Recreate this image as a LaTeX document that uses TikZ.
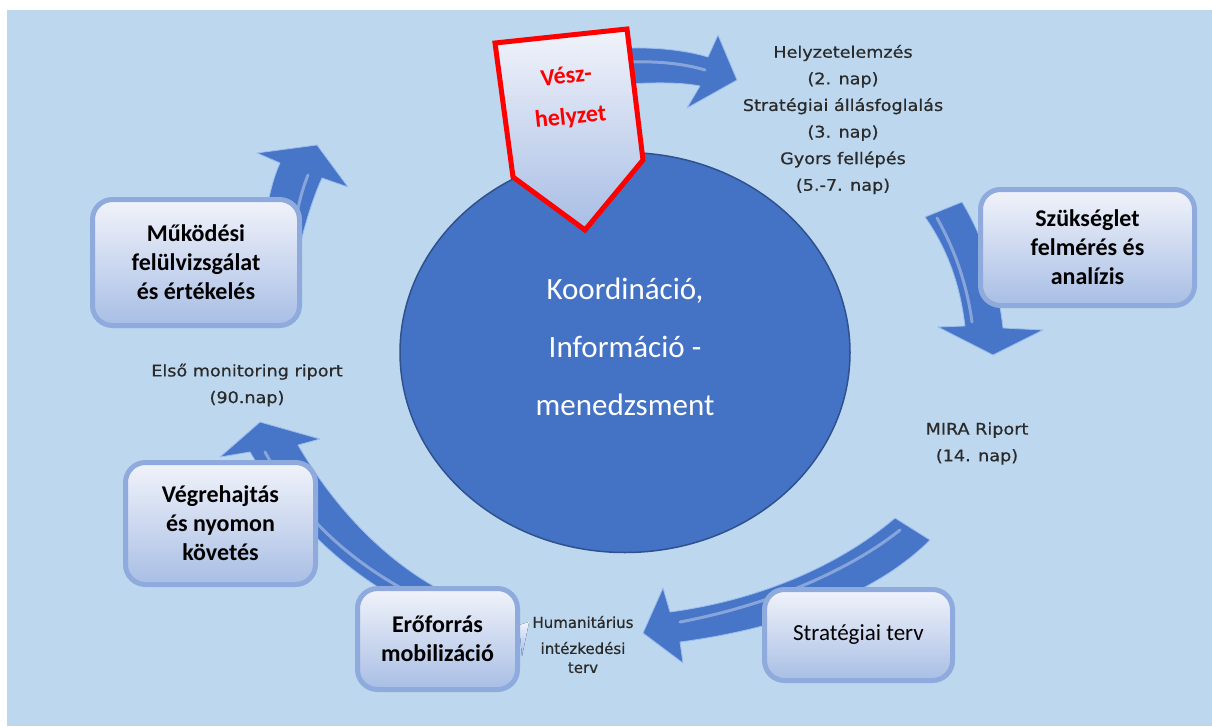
\documentclass[tikz,border=0pt]{standalone}
\usepackage{fontspec}
\usetikzlibrary{shapes.geometric}
\setmainfont{Carlito}
\newfontfamily\labfont[FakeStretch=1.1,FakeBold=0.6]{DejaVu Sans}
\newfontfamily\smlabfont[FakeBold=0.6]{DejaVu Sans}
\definecolor{bgblue}{HTML}{BDD7EE}
\definecolor{circfill}{HTML}{4472C4}
\definecolor{circline}{HTML}{2F528F}
\definecolor{arrfill}{HTML}{4775C8}
\definecolor{arredge}{HTML}{9CBDF0}
\definecolor{boxline}{HTML}{8FAADC}
\definecolor{boxtop}{HTML}{F1F3FA}
\definecolor{boxbot}{HTML}{A8BEE5}
\definecolor{labgray}{HTML}{2A2A2A}
\definecolor{alarm}{HTML}{FF0000}
\tikzset{
  blockarrow/.style={fill=arrfill, draw=arredge, line width=0.8pt, line join=round},
  sheen/.style={draw=white, opacity=0.35, line width=3pt, line cap=round},
  stagebox/.style={rectangle, rounded corners=20pt, draw=boxline, line width=5pt,
     top color=boxtop, bottom color=boxbot, align=center, inner sep=0pt,
     font=\bfseries\fontsize{24}{29}\selectfont, text=black},
  daylabel/.style={align=center, text=labgray, inner sep=0pt,
     font=\labfont\fontsize{16}{26.6}\selectfont},
}
\begin{document}
\begin{tikzpicture}[x=1pt,y=-1pt]
\useasboundingbox (0,0) rectangle (1212,726);
\fill[white] (0,0) rectangle (1212,726);
\fill[bgblue] (7,10) rectangle (1212,726);

% block arrows (drawn beneath boxes)
\draw[blockarrow] (615,49) .. controls (650,46) and (685,50) .. (708,57) -- (718,35) -- (737,80)
  -- (687,108) -- (700,86) .. controls (680,82) and (650,82) .. (615,85) -- cycle;
\draw[sheen] (630,62) .. controls (660,61) and (685,64) .. (705,70);
\draw[blockarrow] (925,217) -- (962,202) .. controls (985,240) and (998,285) .. (1003,328)
  -- (1043,330) -- (993,355) -- (938,327) -- (965,326)
  .. controls (960,285) and (948,250) .. (925,217) -- cycle;
\draw[sheen] (937,218) .. controls (955,250) and (967,285) .. (972,322);
\draw[blockarrow] (895,518) .. controls (840,565) and (760,600) .. (670,612) -- (663,588) -- (643,633)
  -- (683,663) -- (680,642) .. controls (770,630) and (870,600) .. (930,540) -- cycle;
\draw[sheen] (900,530) .. controls (850,570) and (770,605) .. (680,622);
\draw[blockarrow] (260,422) -- (320,439) -- (298,445) .. controls (330,500) and (380,560) .. (450,595)
  -- (430,615) .. controls (350,580) and (290,520) .. (250,452) -- (220,457) -- cycle;
\draw[sheen] (265,452) .. controls (300,515) and (350,565) .. (430,603);
\draw[blockarrow] (317,145) -- (348,187) -- (322,178) .. controls (312,200) and (305,225) .. (300,245)
  -- (262,245) .. controls (265,215) and (270,185) .. (280,163) -- (257,153) -- cycle;
\draw[sheen] (308,175) .. controls (300,195) and (296,215) .. (294,235);
\fill[top color=boxtop, bottom color=arredge] (519,625) -- (529,622) -- (522,656) -- cycle;

% central ellipse
\node[ellipse, minimum width=450pt, minimum height=400pt, fill=circfill, draw=circline,
  line width=1.5pt, inner sep=0pt] (core) at (625,352.5) {};
\node[align=center, text=white, font=\fontsize{31}{58}\selectfont] (coretext) at (625,347)
  {Koordináció,\\Információ -\\menedzsment};

% emergency pentagon
\draw[draw=alarm, line width=5pt, line join=miter, top color=boxtop, bottom color=boxbot]
  (495,43) -- (627,29) -- (643,160) -- (585,230) -- (513,177) -- cycle;
\node[rotate=6, align=center, text=alarm, font=\bfseries\fontsize{24}{41}\selectfont] (vesz)
  at (568.5,97.5) {Vész-\\helyzet};

% stage boxes
\node[stagebox, minimum width=207pt, minimum height=126pt] (mukodes) at (196,262.5)
  {Működési\\felülvizsgálat\\és értékelés};
\node[stagebox, minimum width=190pt, minimum height=122pt] (vegre) at (220.5,523.5)
  {Végrehajtás\\és nyomon\\követés};
\node[stagebox, minimum width=160pt, minimum height=101pt] (eroforras) at (437.5,639)
  {Erőforrás\\mobilizáció};
\node[stagebox, minimum width=188pt, minimum height=91pt, font=\fontsize{23}{28}\selectfont] (strat) at (858.5,635)
  {Stratégiai terv};
\node[stagebox, minimum width=214pt, minimum height=116pt] (szukseg) at (1087.5,247.5)
  {Szükséglet\\felmérés és\\analízis};

% labels
\node[daylabel] (helyzet) at (843,119.5)
  {Helyzetelemzés\\(2. nap)\\Stratégiai állásfoglalás\\(3. nap)\\Gyors fellépés\\(5.-7. nap)};
\node[daylabel] (mira) at (977,443.5) {MIRA Riport\\(14. nap)};
\node[daylabel] (elso) at (247,385) {Első monitoring riport\\(90.nap)};
\node[daylabel, font=\smlabfont\fontsize{15}{26}\selectfont] (human) at (583,622) {Humanitárius};
\node[daylabel, font=\smlabfont\fontsize{15}{19}\selectfont] (intez) at (583,657.5) {intézkedési\\terv};
\end{tikzpicture}
\end{document}
